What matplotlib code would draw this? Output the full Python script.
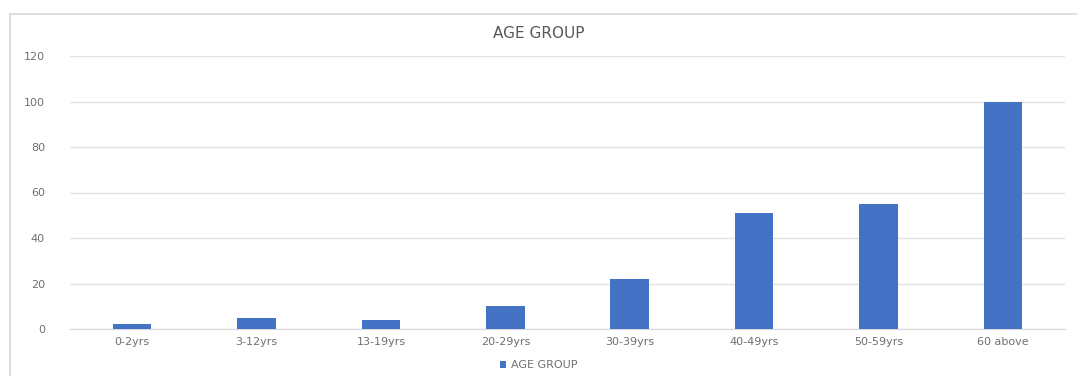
import matplotlib.pyplot as plt
from matplotlib.patches import Rectangle

categories = ["0-2yrs", "3-12yrs", "13-19yrs", "20-29yrs", "30-39yrs",
              "40-49yrs", "50-59yrs", "60 above"]
counts = [2, 5, 4, 10, 22, 51, 55, 100]
y_ticks = [0, 20, 40, 60, 80, 100, 120]

fig = plt.figure(figsize=(10.77, 3.76), dpi=100)
# chart frame like an Excel chart area
fig.patches.append(Rectangle((10 / 1077, -0.01), 1.0, 1 - 14 / 376 + 0.01,
                             transform=fig.transFigure, fill=False,
                             edgecolor="#d9d9d9", linewidth=1.2))

ax = fig.add_axes([70 / 1077, 1 - 329 / 376, 995 / 1077, (329 - 56) / 376])
r = range(len(categories))
bars = ax.bar(r, counts, width=0.31, color="#4472C4", label="AGE GROUP", zorder=3)

ax.set_xlim(-0.5, len(categories) - 0.5)
ax.set_ylim(0, 120)
ax.set_yticks(y_ticks)
ax.set_xticks(list(r))
ax.set_xticklabels(categories)
ax.tick_params(axis="both", length=0, colors="#707070", labelsize=8)
ax.tick_params(axis="y", pad=18)
ax.tick_params(axis="x", pad=6)
ax.grid(axis="y", color="#e3e3e3", linewidth=1, zorder=0)
for s in ["top", "right", "left"]:
    ax.spines[s].set_visible(False)
ax.spines["bottom"].set_color("#d9d9d9")

fig.text(0.5, 1 - 33 / 376, "AGE GROUP", ha="center", va="center",
         fontsize=11, color="#595959")
fig.legend(handles=[bars], labels=["AGE GROUP"], loc="center",
           bbox_to_anchor=(0.5, 1 - 365 / 376), frameon=False, fontsize=8,
           labelcolor="#707070", handlelength=0.6, handleheight=0.6,
           handletextpad=0.4)

plt.savefig("out.png", dpi=100)
